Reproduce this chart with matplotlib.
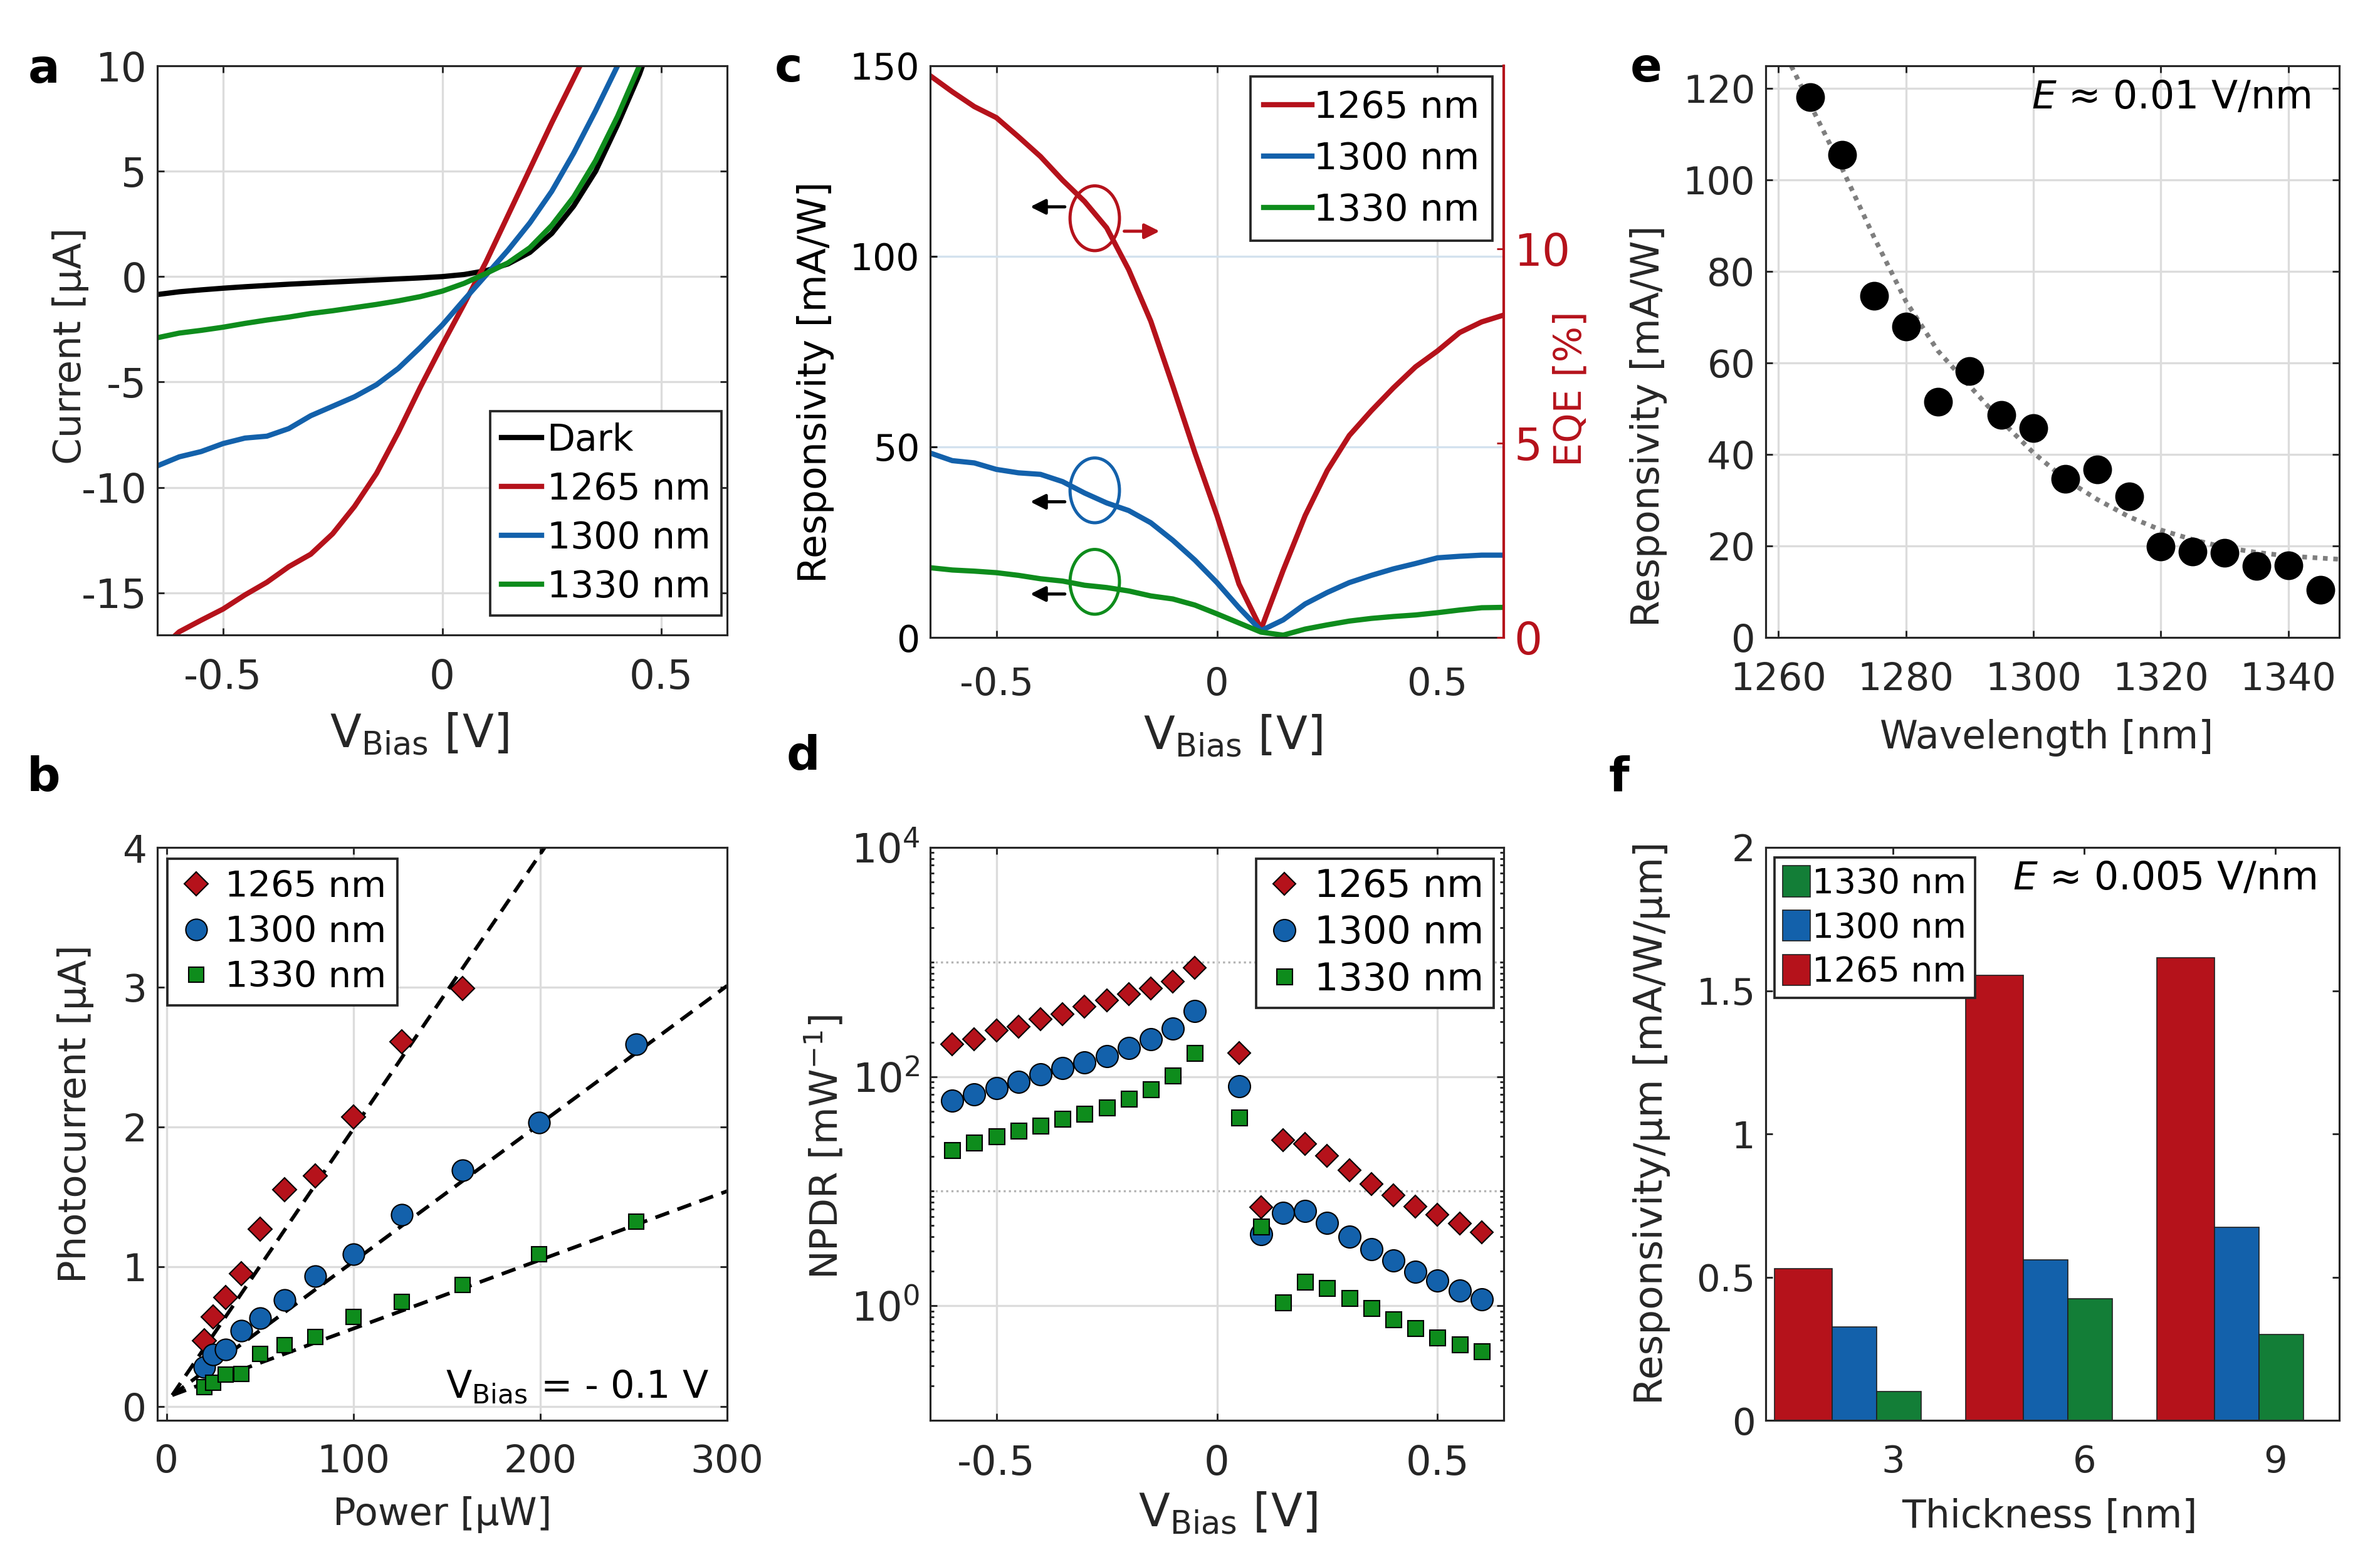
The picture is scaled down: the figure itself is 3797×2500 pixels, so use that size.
import numpy as np
import matplotlib
matplotlib.use("Agg")
import matplotlib.pyplot as plt
from matplotlib.patches import Ellipse, Patch
from matplotlib.ticker import LogLocator, FixedLocator, NullFormatter

plt.rcParams['font.family'] = ['DejaVu Sans']
plt.rcParams['mathtext.default'] = 'regular'

# ---------------- data ----------------
# (a) I-V curves
V_a = [-0.65, -0.6, -0.55, -0.5, -0.45, -0.4, -0.35, -0.3, -0.25, -0.2, -0.15, -0.1, -0.05, 0.0,
       0.05, 0.1, 0.15, 0.2, 0.25, 0.3, 0.35, 0.4, 0.45, 0.5, 0.55, 0.6, 0.65]
I_dark = [-0.85, -0.72, -0.63, -0.55, -0.48, -0.42, -0.36, -0.31, -0.26, -0.21, -0.16, -0.11, -0.06, 0.0,
          0.1, 0.28, 0.6, 1.15, 2.05, 3.35, 5.0, 7.2, 9.6, 12.5, 15.5, 19.0, 23.0]
I_1265 = [-17.8, -16.85, -16.3, -15.77, -15.1, -14.5, -13.76, -13.17, -12.2, -10.9, -9.34, -7.38, -5.25, -3.24,
          -1.3, 0.7, 2.9, 5.1, 7.3, 9.4, 11.5, 13.6, 15.7, 17.8, 19.9, 22.0, 24.0]
I_1300 = [-8.98, -8.55, -8.3, -7.92, -7.66, -7.57, -7.21, -6.6, -6.15, -5.7, -5.13, -4.35, -3.36, -2.3,
          -1.1, 0.07, 1.25, 2.55, 4.05, 5.86, 7.87, 10.0, 12.3, 14.7, 17.2, 19.8, 22.5]
I_1330 = [-2.9, -2.68, -2.55, -2.4, -2.22, -2.06, -1.92, -1.75, -1.62, -1.47, -1.32, -1.15, -0.95, -0.69,
          -0.32, 0.15, 0.65, 1.37, 2.43, 3.78, 5.5, 7.6, 10.0, 12.8, 16.0, 19.5, 23.0]
labels_a = ['Dark', '1265 nm', '1300 nm', '1330 nm']

# (b) photocurrent vs power
P_b = [20, 25, 31.6, 39.8, 50, 63.1, 79.4, 100, 125.9, 158.5, 199.5, 251.2]
Iph_1265 = [0.47, 0.64, 0.78, 0.95, 1.27, 1.55, 1.65, 2.07, 2.61, 2.99]
Iph_1300 = [0.28, 0.37, 0.405, 0.54, 0.63, 0.76, 0.93, 1.09, 1.37, 1.69, 2.03, 2.59]
Iph_1330 = [0.136, 0.17, 0.226, 0.233, 0.377, 0.44, 0.495, 0.64, 0.75, 0.87, 1.09, 1.32]
fitP_1265 = [3, 210]
fitI_1265 = [0.08, 4.15]
fitP_1300 = [3, 300]
fitI_1300 = [0.08, 3.01]
fitP_1330 = [3, 300]
fitI_1330 = [0.08, 1.54]

# (c) responsivity vs bias
V_c = V_a
R_1265 = [147.4, 143.2, 139.3, 136.4, 131.4, 126.2, 120.0, 114.4, 107.5, 96.5, 83.0, 66.0, 48.5, 32.0,
          14.0, 2.2, 17.6, 32.0, 43.8, 53.0, 59.5, 65.5, 71.0, 75.2, 80.0, 82.8, 84.6]
R_1300 = [48.4, 46.4, 45.8, 44.1, 43.2, 42.8, 40.9, 37.9, 35.3, 33.3, 30.1, 25.5, 20.3, 14.4,
          7.8, 1.8, 4.6, 8.8, 11.8, 14.4, 16.3, 18.0, 19.4, 20.9, 21.3, 21.6, 21.6]
R_1330 = [18.3, 17.7, 17.4, 17.0, 16.3, 15.4, 14.8, 13.7, 13.1, 12.2, 10.9, 10.1, 8.5, 6.2,
          3.8, 1.4, 0.6, 2.2, 3.3, 4.3, 5.0, 5.5, 5.9, 6.5, 7.2, 7.8, 7.9]
EQE_max = 14.70  # EQE [%] matching 150 mA/W at 1265 nm

# (d) NPDR
V_d = [-0.6, -0.55, -0.5, -0.45, -0.4, -0.35, -0.3, -0.25, -0.2, -0.15, -0.1, -0.05,
       0.05, 0.1, 0.15, 0.2, 0.25, 0.3, 0.35, 0.4, 0.45, 0.5, 0.55, 0.6]
N_1265 = [191, 211, 253, 272, 316, 350, 407, 460, 524, 591, 674, 885,
          161, 7.2, 28, 25.8, 20.3, 15.3, 11.6, 9.2, 7.3, 6.2, 5.2, 4.4]
N_1300 = [61.6, 69.5, 79, 89.5, 104, 118, 133, 151, 178, 211, 264, 375,
          82.6, 4.24, 6.5, 6.7, 5.3, 4.03, 3.1, 2.48, 1.99, 1.66, 1.35, 1.13]
N_1330 = [22.9, 26.6, 30, 33.6, 37.2, 42.8, 47.4, 54, 64, 76.9, 102, 161,
          43.7, 4.93, 1.07, 1.62, 1.43, 1.16, 0.95, 0.76, 0.635, 0.53, 0.46, 0.40]

# (e) responsivity vs wavelength
wl_e = [1265, 1270, 1275, 1280, 1285, 1290, 1295, 1300, 1305, 1310, 1315, 1320, 1325, 1330, 1335, 1340, 1345]
R_e = [118.1, 105.5, 74.7, 68.0, 51.5, 58.2, 48.6, 45.8, 34.7, 36.8, 30.8, 19.9, 18.8, 18.5, 15.6, 15.8, 10.4]
wl_fit = [1262, 1265, 1270, 1275, 1280, 1285, 1290, 1295, 1300, 1305, 1310, 1315, 1320, 1325, 1330, 1335, 1340, 1348]
R_fit = [125, 116.5, 102.5, 87.5, 73.5, 62.7, 55.0, 47.3, 40.4, 34.6, 30.2, 26.4, 23.5, 21.4, 19.7, 18.6, 17.8, 17.1]

# (f) thickness bars
thick = [3, 6, 9]
Rt_1265 = [0.53, 1.554, 1.614]
Rt_1300 = [0.325, 0.561, 0.675]
Rt_1330 = [0.10, 0.425, 0.30]

# ---------------- style ----------------
RED = '#b5121b'
BLUE = '#1361ab'
GREEN = '#0e8c1c'
BAR_GREEN = '#137e37'
TXT = '#262626'
GRID = '#dcdcdc'

W, H = 3797, 2500
fig = plt.figure(figsize=(W / 300, H / 300), dpi=300)


def pos(l, t, r, b):
    return [l / W, 1 - b / H, (r - l) / W, (b - t) / H]


def style(ax, fs, grid=True, xpad=9):
    ax.tick_params(which='both', direction='in', top=True, right=True, labelsize=fs,
                   colors=TXT, length=2.6, width=0.7, pad=4)
    ax.tick_params(axis='x', pad=xpad)
    ax.tick_params(which='minor', length=1.5)
    for s in ax.spines.values():
        s.set_color(TXT)
        s.set_linewidth(0.75)
    if grid:
        ax.grid(True, which='major', color=GRID, lw=0.8)
    ax.set_axisbelow(True)


def leg(ax, handles, labels, fs, **kw):
    L = ax.legend(handles, labels, fontsize=fs, fancybox=False, framealpha=1,
                  edgecolor=TXT, borderaxespad=0, **kw)
    L.get_frame().set_linewidth(0.9)
    return L


# ---------- (a) ----------
axa = fig.add_axes(pos(251, 105, 1160, 1013))
style(axa, 15.4)
la = []
for y, c in zip([I_dark, I_1265, I_1300, I_1330], ['black', RED, BLUE, GREEN]):
    la.append(axa.plot(V_a, y, color=c, lw=2.0)[0])
axa.set_xlim(-0.65, 0.65)
axa.set_ylim(-17, 10)
axa.set_xticks([-0.5, 0, 0.5])
axa.set_xticklabels(['-0.5', '0', '0.5'])
axa.set_yticks([-15, -10, -5, 0, 5, 10])
axa.set_yticklabels(['-15', '-10', '-5', '0', '5', '10'])
axa.set_xlabel(r'V$_{\mathrm{Bias}}$ [V]', fontsize=17.5, color=TXT, labelpad=4)
axa.xaxis.set_label_coords(0.459, -0.135)
axa.set_ylabel('Current [µA]', fontsize=14.7, color=TXT, labelpad=-3)
axa.yaxis.label.set_y(0.508)
leg(axa, la, labels_a, 14, loc='lower right', bbox_to_anchor=(0.99, 0.034),
    handlelength=1.1, handletextpad=0.15, labelspacing=0.36, borderpad=0.3)

# ---------- (b) ----------
axb = fig.add_axes(pos(251, 1352, 1160, 2266))
style(axb, 14.7)
dash = dict(color='black', lw=1.4, dashes=(4.0, 2.4))
axb.plot(fitP_1265, fitI_1265, **dash)
axb.plot(fitP_1300, fitI_1300, **dash)
axb.plot(fitP_1330, fitI_1330, **dash)
hb1, = axb.plot(P_b[:len(Iph_1265)], Iph_1265, 'D', ms=6.6, mfc=RED, mec='black', mew=0.5, ls='none')
hb2, = axb.plot(P_b, Iph_1300, 'o', ms=8.2, mfc=BLUE, mec='black', mew=0.5, ls='none')
hb3, = axb.plot(P_b, Iph_1330, 's', ms=5.9, mfc=GREEN, mec='black', mew=0.5, ls='none')
axb.set_xlim(-5, 300)
axb.set_ylim(-0.1, 4)
axb.set_xticks([0, 100, 200, 300])
axb.set_yticks([0, 1, 2, 3, 4])
axb.set_xlabel('Power [µW]', fontsize=14.6, color=TXT, labelpad=6)
axb.set_ylabel('Photocurrent [µA]', fontsize=14.6, color=TXT, labelpad=11)
axb.yaxis.label.set_y(0.535)
leg(axb, [hb1, hb2, hb3], ['1265 nm', '1300 nm', '1330 nm'], 13.8, loc='upper left',
    bbox_to_anchor=(0.018, 0.98), handlelength=1.0, handletextpad=0.3, labelspacing=0.3,
    borderpad=0.3)
axb.text(0.968, 0.057, r'V$_{\mathrm{Bias}}$ = - 0.1 V', transform=axb.transAxes, ha='right',
         va='center', fontsize=14.5, color='black')

# ---------- (c) ----------
axc = fig.add_axes(pos(1484, 105, 2399, 1017))
style(axc, 14.0, grid=False, xpad=11)
axc.grid(True, axis='x', color=GRID, lw=0.8)
axc.grid(True, axis='y', color='#d3e2ee', lw=0.8)
axc.tick_params(right=False, colors='black')
lc = []
for y, c in zip([R_1265, R_1300, R_1330], [RED, BLUE, GREEN]):
    lc.append(axc.plot(V_c, y, color=c, lw=2.0)[0])
axc.set_xlim(-0.65, 0.65)
axc.set_ylim(0, 150)
axc.set_xticks([-0.5, 0, 0.5])
axc.set_xticklabels(['-0.5', '0', '0.5'])
axc.tick_params(axis='x', colors=TXT, labelsize=14.5)
axc.set_yticks([0, 50, 100, 150])
axc.set_xlabel(r'V$_{\mathrm{Bias}}$ [V]', fontsize=17.5, color=TXT, labelpad=4)
axc.xaxis.label.set_x(0.528)
axc.set_ylabel('Responsivity [mA/W]', fontsize=14.8, color='black', labelpad=6)
axc.yaxis.label.set_y(0.446)
axc.spines['right'].set_visible(False)
axc2 = axc.twinx()
axc2.set_ylim(0, EQE_max)
axc2.set_yticks([0, 5, 10])
axc2.tick_params(direction='in', colors=RED, labelsize=17, length=2.6, width=0.7, pad=4)
for s in ['left', 'top', 'bottom']:
    axc2.spines[s].set_visible(False)
axc2.spines['right'].set_color(RED)
axc2.spines['right'].set_linewidth(1.0)
axc2.set_ylabel('EQE [%]', fontsize=14.5, color=RED, labelpad=-7)
axc2.yaxis.label.set_y(0.435)
for (cx, cy, ay, col) in [(-0.277, 110, 113, RED), (-0.277, 38.6, 35.6, BLUE), (-0.277, 14.6, 11.4, GREEN)]:
    axc.add_patch(Ellipse((cx, cy), 0.112, 17, fill=False, ec=col, lw=1.2))
    axc.annotate('', xy=(-0.435, ay), xytext=(-0.333, ay),
                 arrowprops=dict(arrowstyle='-|>', color='black', lw=1.2, mutation_scale=12))
axc.annotate('', xy=(-0.118, 106.6), xytext=(-0.222, 106.6),
             arrowprops=dict(arrowstyle='-|>', color=RED, lw=1.2, mutation_scale=12))
leg(axc, lc, ['1265 nm', '1300 nm', '1330 nm'], 14.2, loc='upper right',
    bbox_to_anchor=(0.98, 0.981), handlelength=1.3, handletextpad=0.05, labelspacing=0.42,
    borderpad=0.35)

# ---------- (d) ----------
axd = fig.add_axes(pos(1484, 1352, 2399, 2266))
axd.set_yscale('log')
style(axd, 15.3, grid=False)
axd.grid(True, axis='x', color=GRID, lw=0.8)
axd.set_ylim(0.1, 1e4)
axd.set_xlim(-0.65, 0.65)
axd.yaxis.set_major_locator(FixedLocator([1, 100, 1e4]))
axd.yaxis.set_minor_locator(LogLocator(base=10, subs=np.arange(1, 10), numticks=20))
axd.yaxis.set_minor_formatter(NullFormatter())
axd.grid(True, axis='y', which='major', color=GRID, lw=0.8)
for yv in [10, 1000]:
    axd.axhline(yv, color='#b4b4b4', lw=0.8, ls=(0, (1, 1.5)), zorder=0.5)
hd1, = axd.plot(V_d, N_1265, 'D', ms=6.2, mfc=RED, mec='black', mew=0.5, ls='none')
hd2, = axd.plot(V_d, N_1300, 'o', ms=8.4, mfc=BLUE, mec='black', mew=0.5, ls='none')
hd3, = axd.plot(V_d, N_1330, 's', ms=6.0, mfc=GREEN, mec='black', mew=0.5, ls='none')
axd.set_xticks([-0.5, 0, 0.5])
axd.set_xticklabels(['-0.5', '0', '0.5'])
axd.set_xlabel(r'V$_{\mathrm{Bias}}$ [V]', fontsize=17.5, color=TXT, labelpad=3)
axd.xaxis.label.set_x(0.519)
axd.set_ylabel(r'NPDR [mW$^{-1}$]', fontsize=14.7, color=TXT, labelpad=2)
axd.yaxis.label.set_y(0.477)
leg(axd, [hd1, hd2, hd3], ['1265 nm', '1300 nm', '1330 nm'], 14.5, loc='upper right',
    bbox_to_anchor=(0.982, 0.98), handlelength=1.0, handletextpad=0.3, labelspacing=0.25,
    borderpad=0.25)

# ---------- (e) ----------
axe = fig.add_axes(pos(2817, 105, 3732, 1017))
style(axe, 14.5)
axe.plot(wl_fit, R_fit, color='#7f7f7f', lw=1.8, ls=(0, (1, 1.2)))
axe.plot(wl_e, R_e, 'o', ms=10, mfc='black', mec='black', ls='none')
axe.set_xlim(1258, 1348)
axe.set_ylim(0, 125)
axe.set_xticks([1260, 1280, 1300, 1320, 1340])
axe.set_yticks([0, 20, 40, 60, 80, 100, 120])
axe.set_xlabel('Wavelength [nm]', fontsize=14.8, color=TXT, labelpad=8)
axe.xaxis.label.set_x(0.49)
axe.set_ylabel('Responsivity [mA/W]', fontsize=14.8, color=TXT, labelpad=6)
axe.yaxis.label.set_y(0.37)
axe.text(0.95, 0.944, r'$\it{E}$ ≈ 0.01 V/nm', transform=axe.transAxes, ha='right', va='center',
         fontsize=14.8, color='black')

# ---------- (f) ----------
axf = fig.add_axes(pos(2817, 1352, 3732, 2266))
style(axf, 14.2, grid=False)
tk = np.array(thick, dtype=float)
axf.bar(tk - 1.41, Rt_1265, width=0.9, color=RED, edgecolor='#202020', lw=0.4)
axf.bar(tk - 0.61, Rt_1300, width=0.7, color=BLUE, edgecolor='#202020', lw=0.4)
axf.bar(tk + 0.09, Rt_1330, width=0.7, color=BAR_GREEN, edgecolor='#202020', lw=0.4)
axf.set_xlim(1, 10)
axf.set_ylim(0, 2)
axf.set_xticks(thick)
axf.set_yticks([0, 0.5, 1, 1.5, 2])
axf.set_yticklabels(['0', '0.5', '1', '1.5', '2'])
axf.set_xlabel('Thickness [nm]', fontsize=14.8, color=TXT, labelpad=7)
axf.xaxis.label.set_x(0.495)
axf.set_ylabel('Responsivity/µm [mA/W/µm]', fontsize=15.1, color=TXT, labelpad=10)
axf.yaxis.label.set_y(0.519)
fh = [Patch(fc=BAR_GREEN, ec='#202020', lw=0.4), Patch(fc=BLUE, ec='#202020', lw=0.4),
      Patch(fc=RED, ec='#202020', lw=0.4)]
leg(axf, fh, ['1330 nm', '1300 nm', '1265 nm'], 13.2, loc='upper left',
    bbox_to_anchor=(0.015, 0.983), handlelength=0.8, handleheight=1.0, handletextpad=0.05,
    labelspacing=0.28, borderpad=0.25)
axf.text(0.96, 0.945, r'$\it{E}$ ≈ 0.005 V/nm', transform=axf.transAxes, ha='right', va='center',
         fontsize=14.8, color='black')

# ---------- panel letters ----------
for (x, y, s) in [(70, 132, 'a'), (70, 1262, 'b'), (1258, 130, 'c'), (1281, 1228, 'd'),
                  (2626, 130, 'e'), (2583, 1262, 'f')]:
    fig.text(x / W, 1 - y / H, s, fontsize=18, fontweight='bold', ha='center', va='baseline',
             color='black')

fig.savefig('out.png', dpi=300)
